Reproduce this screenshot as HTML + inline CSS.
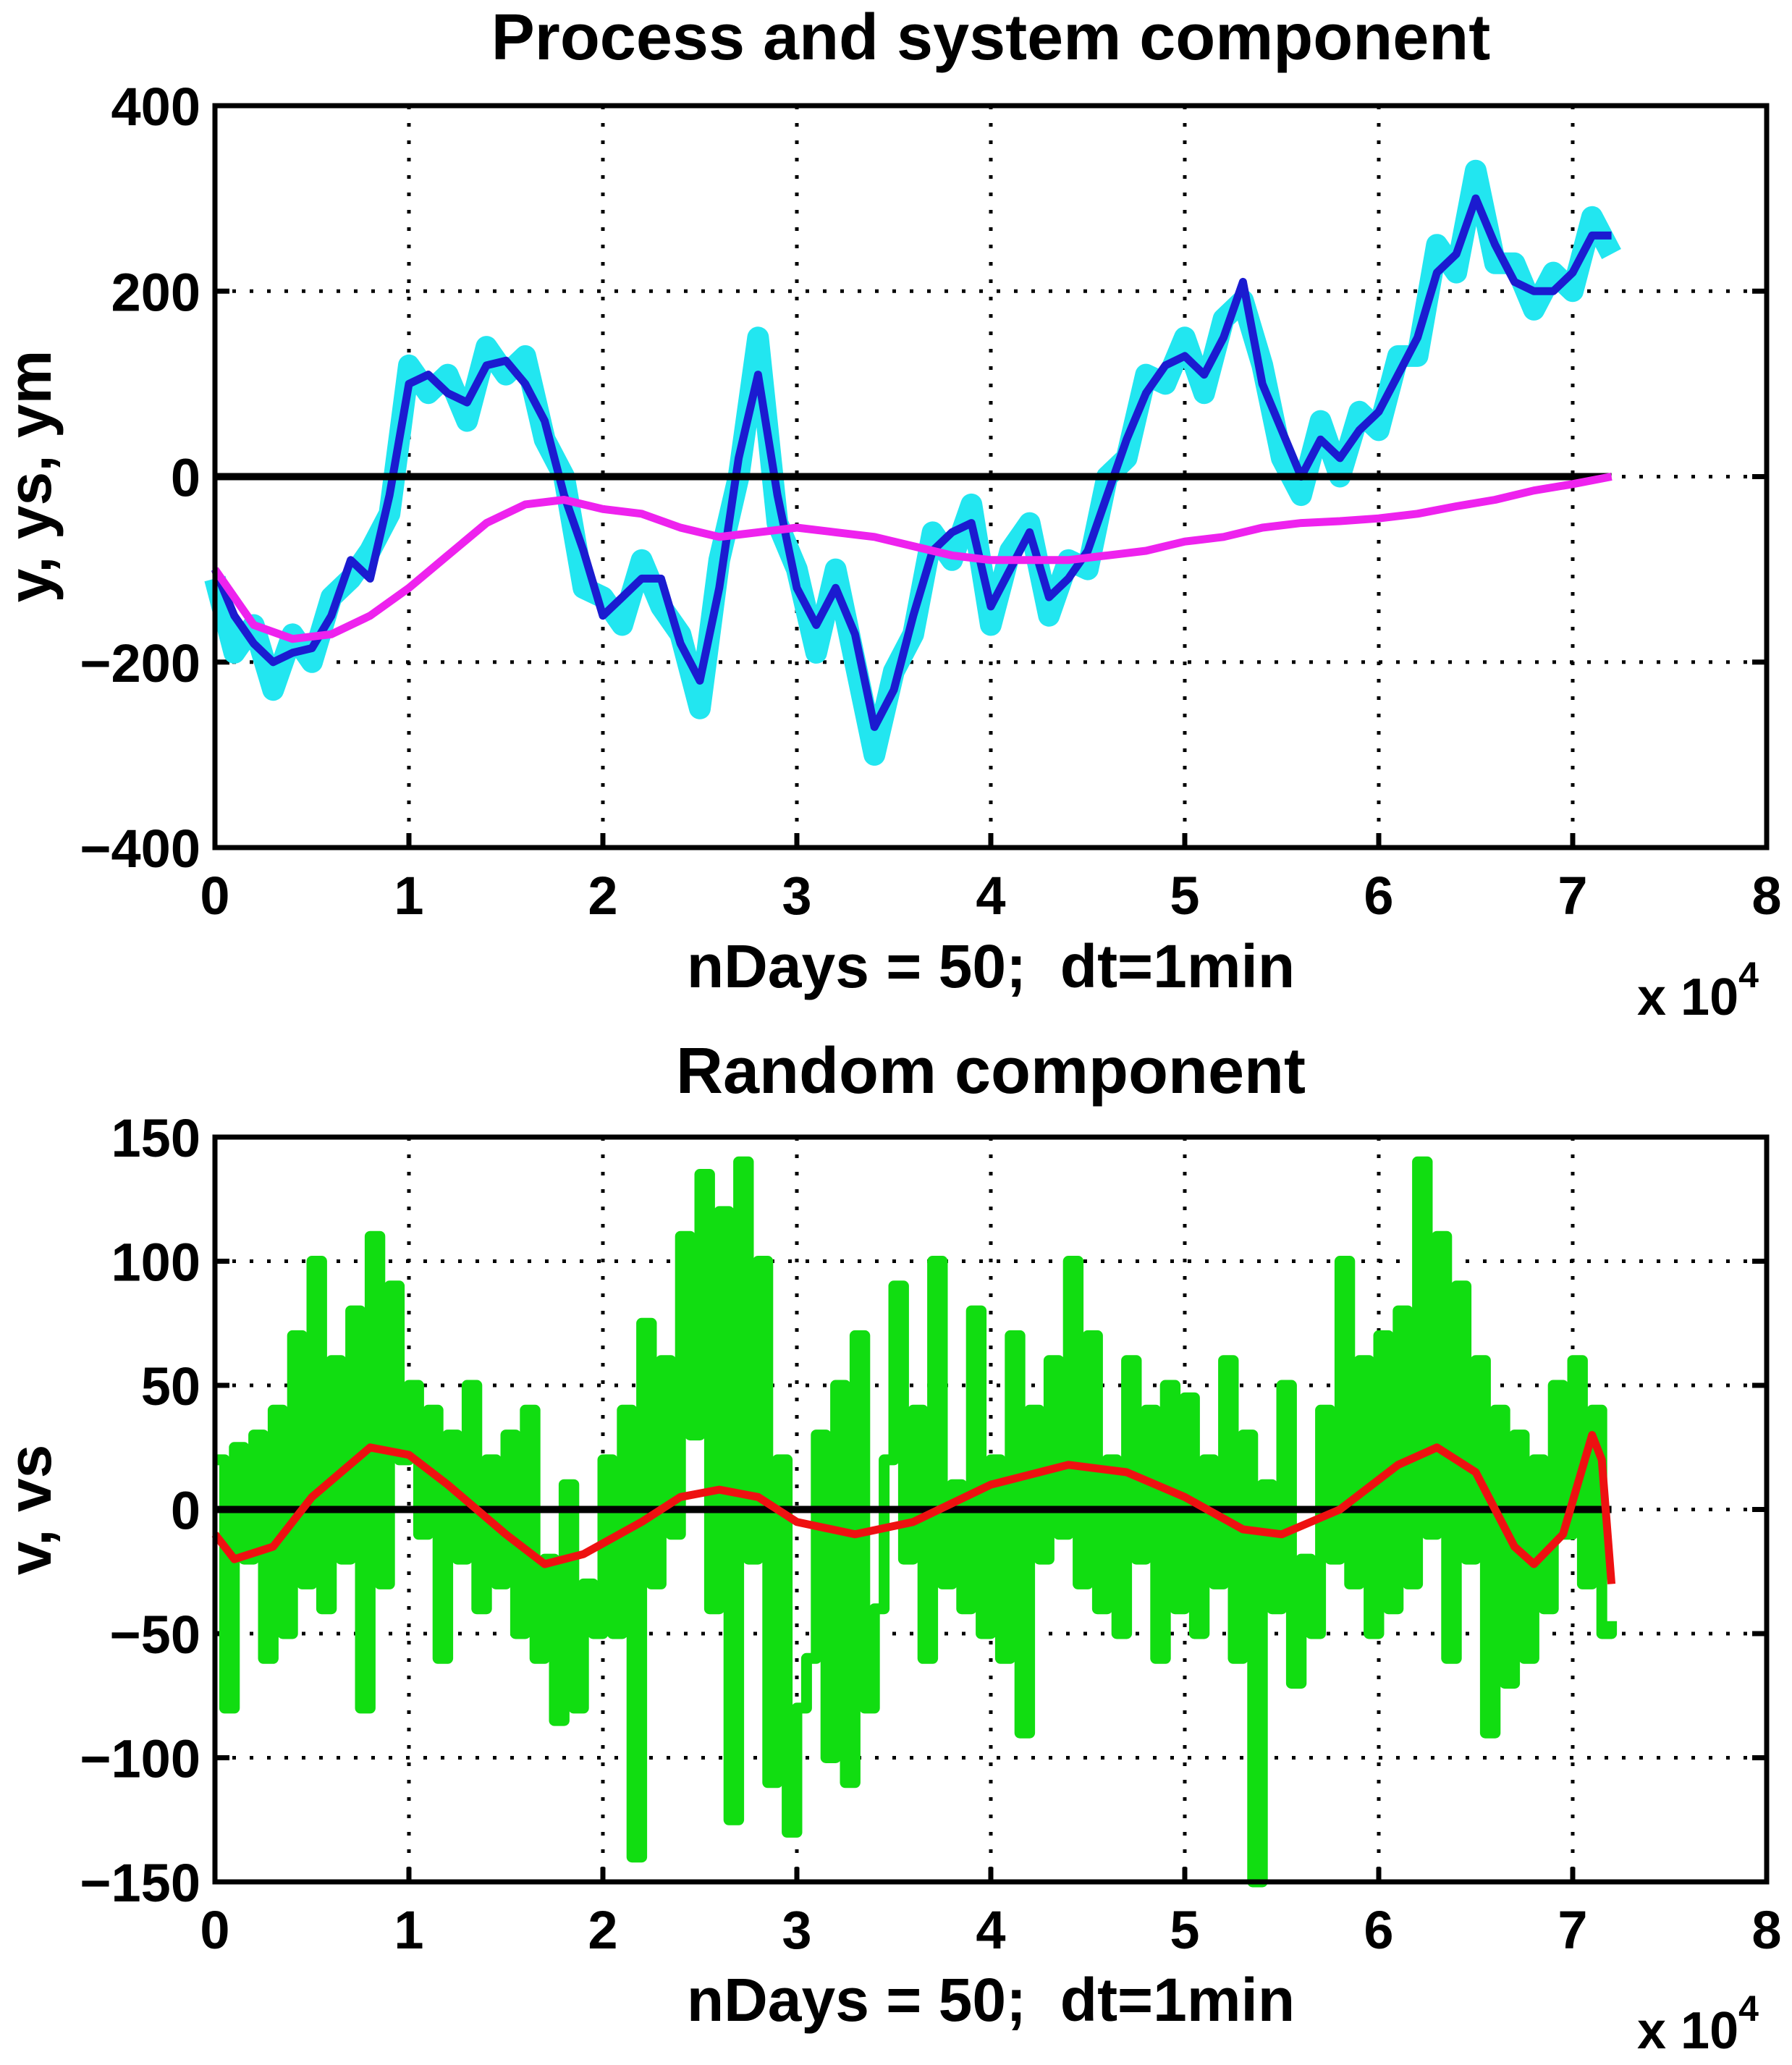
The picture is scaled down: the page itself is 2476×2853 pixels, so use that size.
<!DOCTYPE html>
<html><head><meta charset="utf-8"><style>
html,body{margin:0;padding:0;background:#fff}
svg{display:block}
text{font-family:"Liberation Sans",Arial,sans-serif;fill:#000;white-space:pre}
</style></head><body>
<svg id="fig" xmlns="http://www.w3.org/2000/svg" width="2476" height="2853" viewBox="0 0 2476 2853">
<rect width="2476" height="2853" fill="#fff"/>
<text x="1369" y="82" font-size="90" font-weight="bold" text-anchor="middle">Process and system component</text>
<text x="1369" y="1364" font-size="84" font-weight="bold" text-anchor="middle" xml:space="preserve">nDays = 50;  dt=1min</text>
<text x="2262" y="1402" font-size="72" font-weight="bold">x 10<tspan font-size="50" dy="-38">4</tspan></text>
<text transform="translate(70,658) rotate(-90)" font-size="84" font-weight="bold" text-anchor="middle">y, ys, ym</text>
<text x="1369" y="1510" font-size="90" font-weight="bold" text-anchor="middle">Random component</text>
<text x="1369" y="2792" font-size="84" font-weight="bold" text-anchor="middle" xml:space="preserve">nDays = 50;  dt=1min</text>
<text x="2262" y="2830" font-size="72" font-weight="bold">x 10<tspan font-size="50" dy="-38">4</tspan></text>
<text transform="translate(70,2086) rotate(-90)" font-size="84" font-weight="bold" text-anchor="middle">v, vs</text>
<g id="top"></g>
<g id="bot"></g>
</svg>
<script>
const xTicks=[0,1,2,3,4,5,6,7,8];
const topYTicks=[-400,-200,0,200,400];
const botYTicks=[-150,-100,-50,0,50,100,150];
const blueX=[0,0.1,0.2,0.3,0.4,0.5,0.6,0.7,0.8,0.9,1.0,1.1,1.2,1.3,1.4,1.5,1.6,1.7,1.8,1.9,2.0,2.1,2.2,2.3,2.4,2.5,2.6,2.7,2.8,2.9,3.0,3.1,3.2,3.3,3.4,3.5,3.6,3.7,3.8,3.9,4.0,4.1,4.2,4.3,4.4,4.5,4.6,4.7,4.8,4.9,5.0,5.1,5.2,5.3,5.4,5.5,5.6,5.7,5.8,5.9,6.0,6.1,6.2,6.3,6.4,6.5,6.6,6.7,6.8,6.9,7.0,7.1,7.2];
const blueY=[-100,-150,-180,-200,-190,-185,-150,-90,-110,-20,100,110,90,80,120,125,100,60,-20,-80,-150,-130,-110,-110,-180,-220,-120,20,110,-20,-120,-160,-120,-170,-270,-230,-150,-80,-60,-50,-140,-100,-60,-130,-110,-80,-20,40,90,120,130,110,150,210,100,50,0,40,20,50,70,110,150,220,240,300,250,210,200,200,220,260,260];
const cyanY=[-110,-190,-160,-230,-170,-200,-130,-110,-80,-40,120,90,110,60,140,110,130,40,0,-120,-130,-160,-90,-140,-170,-250,-90,0,150,-50,-100,-190,-100,-200,-300,-210,-170,-60,-90,-30,-160,-80,-50,-150,-90,-100,0,20,110,100,150,90,170,190,120,20,-20,60,0,70,50,130,130,250,220,330,230,230,180,220,200,280,240];
const magX=[0,0.2,0.4,0.6,0.8,1.0,1.2,1.4,1.6,1.8,2.0,2.2,2.4,2.6,2.8,3.0,3.2,3.4,3.6,3.8,4.0,4.2,4.4,4.6,4.8,5.0,5.2,5.4,5.6,5.8,6.0,6.2,6.4,6.6,6.8,7.0,7.2];
const magY=[-100,-160,-175,-170,-150,-120,-85,-50,-30,-25,-35,-40,-55,-65,-60,-55,-60,-65,-75,-85,-90,-90,-90,-85,-80,-70,-65,-55,-50,-48,-45,-40,-32,-25,-15,-8,0];
const greenY=[20,-80,25,-20,30,-60,40,-50,70,-30,
100,-40,60,-20,80,-80,110,-30,90,20,
50,-10,40,-60,30,-20,50,-40,20,-30,
30,-50,40,-60,-20,-85,10,-80,-30,-50,
20,-50,40,-140,75,-30,60,-10,110,30,
135,-40,120,-125,140,-20,100,-110,20,-130,
-80,-60,30,-100,50,-110,70,-80,-40,20,
90,-20,40,-60,100,-30,10,-40,80,-50,
20,-60,70,-90,40,-20,60,-10,100,-30,
70,-40,20,-50,60,-20,40,-60,50,-40,
45,-50,20,-30,60,-60,30,-150,10,-40,
50,-70,-20,-50,40,-20,100,-30,60,-50,
70,-40,80,-30,140,-10,110,-60,90,-20,
60,-90,40,-70,30,-60,20,-40,50,-10,
60,-30,40,-50,-45];
const redX=[0,0.1,0.3,0.5,0.8,1.0,1.2,1.5,1.7,1.9,2.2,2.4,2.6,2.8,3.0,3.3,3.6,4.0,4.4,4.7,5.0,5.3,5.5,5.8,6.1,6.3,6.5,6.7,6.8,6.95,7.1,7.15,7.2];
const redY=[-10,-20,-15,5,25,22,10,-10,-22,-18,-5,5,8,5,-5,-10,-5,10,18,15,5,-8,-10,0,18,25,15,-15,-22,-10,30,20,-30];
const NS="http://www.w3.org/2000/svg";
const L=297,R=2441;
function mk(p,tag,a){const e=document.createElementNS(NS,tag);for(const k in a)e.setAttribute(k,a[k]);p.appendChild(e);return e;}
function axes(g,T,B,ymin,ymax,yt){
 const sx=v=>L+(v-0)/8*(R-L), sy=v=>B-(v-ymin)/(ymax-ymin)*(B-T);
 for(const t of xTicks){ if(t>0&&t<8){const l=mk(g,'line',{x1:sx(t),x2:sx(t),y1:T,y2:B,stroke:'#000','stroke-width':5,'stroke-dasharray':'5 19'});
 }
 const tx=mk(g,'text',{x:sx(t),y:B+92,'font-size':74,'font-weight':'bold','text-anchor':'middle'});tx.textContent=t;
 
 mk(g,'line',{x1:sx(t),x2:sx(t),y1:B,y2:B-20,stroke:'#000','stroke-width':7});}
 for(const t of yt){ if(t>ymin&&t<ymax){const l=mk(g,'line',{x1:L,x2:R,y1:sy(t),y2:sy(t),stroke:'#000','stroke-width':5,'stroke-dasharray':'5 19'});
 }
 const tx=mk(g,'text',{x:L-20,y:sy(t)+27,'font-size':74,'font-weight':'bold','text-anchor':'end'});tx.textContent=(t<0?'\u2212'+(-t):t);
 
 mk(g,'line',{x1:L,x2:L+20,y1:sy(t),y2:sy(t),stroke:'#000','stroke-width':7});
 mk(g,'line',{x1:R,x2:R-20,y1:sy(t),y2:sy(t),stroke:'#000','stroke-width':7});}
 return [sx,sy];
}
function box(g,T,B){const r=mk(g,'rect',{x:L,y:T,width:R-L,height:B-T,fill:'none',stroke:'#000','stroke-width':7});
 }
function path(g,xs,ys,sx,sy,col,w,name,step){let d='';xs.forEach((x,i)=>{
 if(step&&i){d+='H'+sx(x).toFixed(1)+'V'+sy(ys[i]).toFixed(1);} else d+=(i?'L':'M')+sx(x).toFixed(1)+','+sy(ys[i]).toFixed(1);});
 const p=mk(g,'path',{d:d,fill:'none',stroke:col,'stroke-width':w,'stroke-linejoin':'round'});
 return p;}
// top
const gt=document.getElementById('top');
const [sx1,sy1]=axes(gt,146,1171,-400,400,topYTicks);
path(gt,blueX,cyanY,sx1,sy1,'#22e6f0',30,'series-y-noisy');
path(gt,blueX,blueY,sx1,sy1,'#1b1bd0',11,'series-ys');
path(gt,[0,7.2],[0,0],sx1,sy1,'#000',10,'zero-line');
path(gt,magX,magY,sx1,sy1,'#ee22ee',11,'series-ym');
box(gt,146,1171);
// bottom
const gb=document.getElementById('bot');
const [sx2,sy2]=axes(gb,1571,2600,-150,150,botYTicks);
const gX=greenY.map((v,i)=>i*0.05);
path(gb,gX,greenY,sx2,sy2,'#11dd11',15,'series-v',true);
path(gb,[0,7.2],[0,0],sx2,sy2,'#000',10,'zero-line');
path(gb,redX,redY,sx2,sy2,'#ee1111',11,'series-vs');
box(gb,1571,2600);
</script>
</body></html>
